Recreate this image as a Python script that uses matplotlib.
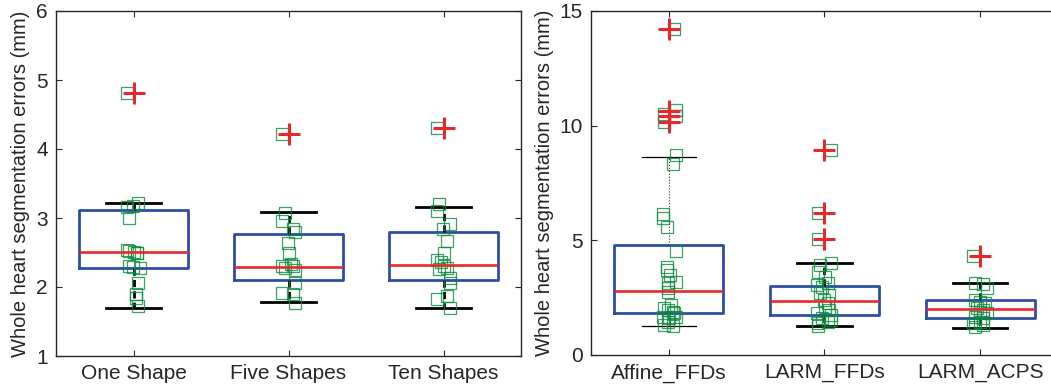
import matplotlib
matplotlib.use("Agg")
import matplotlib.pyplot as plt

plt.rcParams.update({"font.family": ["Liberation Sans", "DejaVu Sans"]})

BLUE = "#2d4fa1"
RED = "#e8282b"
GREEN = "#0b8a3c"

# ---------------------------------------------------------------- data
left_labels = ["One Shape", "Five Shapes", "Ten Shapes"]
left_q1 = [2.28, 2.10, 2.10]
left_med = [2.51, 2.29, 2.32]
left_q3 = [3.12, 2.77, 2.80]
left_lo = [1.70, 1.78, 1.70]
left_hi = [3.22, 3.09, 3.16]
left_fliers = [[4.81], [4.22], [4.30]]

one_pts = [4.81, 3.22, 3.17, 3.16, 3.00, 2.53, 2.52, 2.51, 2.50, 2.49,
           2.30, 2.29, 2.28, 2.06, 1.90, 1.84, 1.72]
one_jit = [-0.045, 0.03, -0.006, -0.045, -0.026, -0.045, -0.026, 0.006, 0.02,
           0.02, -0.026, -0.006, 0.04, 0.03, 0.013, 0.013, 0.03]
five_pts = [4.22, 3.07, 2.96, 2.84, 2.80, 2.64, 2.49, 2.34, 2.30, 2.30,
            2.27, 2.25, 2.06, 1.91, 1.90, 1.77]
five_jit = [-0.04, -0.02, -0.04, 0.026, 0.045, -0.006, 0.0, 0.013, -0.04,
            0.026, -0.02, 0.045, 0.045, -0.04, 0.026, 0.045]
ten_pts = [4.30, 3.20, 3.10, 2.91, 2.84, 2.67, 2.49, 2.39, 2.36, 2.30, 2.28,
           2.26, 2.13, 2.06, 1.87, 1.83, 1.70]
ten_jit = [-0.045, -0.026, -0.04, 0.04, -0.006, 0.02, 0.0, -0.045, -0.013,
           0.006, 0.02, -0.026, 0.04, 0.04, 0.02, -0.045, 0.04]

right_labels = ["Affine_FFDs", "LARM_FFDs", "LARM_ACPS"]
right_q1 = [1.83, 1.74, 1.62]
right_med = [2.80, 2.36, 2.00]
right_q3 = [4.80, 3.00, 2.42]
right_lo = [1.26, 1.26, 1.17]
right_hi = [8.65, 4.02, 3.13]
right_fliers = [[14.2, 10.65, 10.43, 10.17], [8.96, 6.2, 5.04], [4.3]]

aff_pts = [14.2, 10.7, 10.5, 10.4, 10.15, 8.7, 8.35, 6.17, 5.96, 5.57, 4.52,
           3.83, 3.70, 3.48, 3.17, 3.13, 2.90, 2.74, 2.17, 2.04, 1.96, 1.87,
           1.83, 1.65, 1.61, 1.65, 1.43, 1.30, 1.26]
aff_jit = [0.03, 0.045, -0.032, 0.045, -0.032, 0.045, 0.026, -0.04, -0.04,
           -0.013, 0.045, -0.013, -0.013, 0.006, 0.045, -0.006, -0.006,
           -0.006, 0.013, -0.032, -0.006, 0.026, 0.03, -0.04, 0.0, 0.045,
           -0.006, -0.032, 0.026]
lffd_pts = [8.96, 6.2, 5.04, 4.0, 3.91, 3.6, 3.39, 3.13, 3.04, 2.96, 2.7,
            2.6, 2.39, 2.26, 2.09, 1.96, 1.83, 1.74, 1.61, 1.52, 1.43, 1.39,
            1.28]
lffd_jit = [0.04, -0.04, -0.04, 0.04, -0.026, -0.04, 0.006, 0.02, -0.045,
            -0.013, -0.026, 0.026, -0.006, 0.02, 0.006, 0.026, -0.045, 0.04,
            -0.013, 0.04, 0.02, -0.04, -0.04]
lacps_pts = [4.3, 3.13, 3.10, 2.9, 2.4, 2.3, 2.26, 2.04, 1.96, 1.87, 1.83,
             1.65, 1.61, 1.43, 1.39, 1.3, 1.2]
lacps_jit = [-0.045, -0.032, 0.02, 0.045, -0.032, 0.0, 0.032, -0.02, 0.02,
             0.0, 0.045, -0.032, 0.02, 0.0, -0.045, 0.02, -0.032]


def stats_list(labels, q1, med, q3, lo, hi, fl):
    return [dict(label=l, q1=a, med=m, q3=b, whislo=w0, whishi=w1, fliers=f)
            for l, a, m, b, w0, w1, f in zip(labels, q1, med, q3, lo, hi, fl)]


def draw(ax, stats, groups, thin_first=False):
    pos = list(range(1, len(stats) + 1))
    bx = ax.bxp(stats, positions=pos, widths=0.7,
                boxprops=dict(color=BLUE, lw=2.0),
                medianprops=dict(color=RED, lw=1.9, zorder=3.5),
                whiskerprops=dict(color="black", lw=2.0, ls=(0, (2.6, 1.5))),
                capprops=dict(color="black", lw=2.0),
                flierprops=dict(marker="+", ms=16, mec=RED, mew=2.2,
                                ls="none", zorder=4))
    if thin_first:
        for w in bx["whiskers"][:2]:
            w.set_linewidth(0.8)
            w.set_linestyle(":")
            w.set_color("#333333")
        for c in bx["caps"][:2]:
            c.set_linewidth(0.9)
    for p, (vals, jit) in zip(pos, groups):
        ax.plot([p + j for j in jit], vals, ls="none", marker="s", ms=8.5,
                mfc="none", mec=GREEN, mew=0.9, alpha=0.8, zorder=3)
    ax.set_xlim(0.5, 3.5)
    ax.tick_params(direction="in", top=True, right=True, length=4,
                   width=0.8, labelsize=15, pad=6, colors="#262626")
    for s in ax.spines.values():
        s.set_linewidth(1.0)
        s.set_color("#262626")
    ax.set_ylabel("Whole heart segmentation errors (mm)", fontsize=14.5,
                  color="#262626", labelpad=4)


fig = plt.figure(figsize=(10.51, 3.9), dpi=100)
ax1 = fig.add_axes([56 / 1051, 1 - 356 / 390, 465 / 1051, 345 / 390])
ax2 = fig.add_axes([591 / 1051, 1 - 355 / 390, 467 / 1051, 344 / 390])

draw(ax1, stats_list(left_labels, left_q1, left_med, left_q3, left_lo,
                     left_hi, left_fliers),
     [(one_pts, one_jit), (five_pts, five_jit), (ten_pts, ten_jit)])
ax1.set_ylim(1, 6)
ax1.set_yticks([1, 2, 3, 4, 5, 6])

draw(ax2, stats_list(right_labels, right_q1, right_med, right_q3, right_lo,
                     right_hi, right_fliers),
     [(aff_pts, aff_jit), (lffd_pts, lffd_jit), (lacps_pts, lacps_jit)],
     thin_first=True)
ax2.set_ylim(0, 15)
ax2.set_yticks([0, 5, 10, 15])

fig.savefig("out.png", dpi=100)
